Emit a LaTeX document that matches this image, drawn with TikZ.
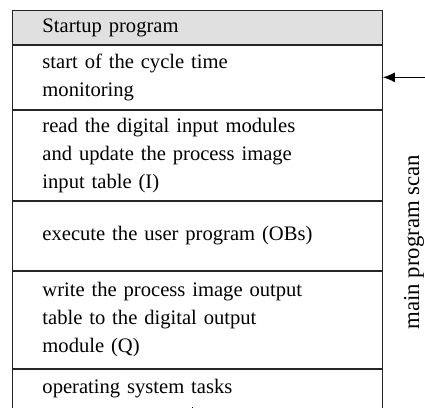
\documentclass[tikz,border=0pt]{standalone}
\usepackage{fontspec}
\setmainfont{Liberation Serif}
\usetikzlibrary{positioning,arrows.meta}

\definecolor{headgray}{RGB}{224,224,224}
\tikzset{
  stepbox/.style={draw=black!85,line width=0.9pt,rectangle,anchor=north west,
    minimum width=370pt,text width=310pt,inner xsep=30pt,inner ysep=0pt,
    align=left,font=\fontsize{20.6}{27.8}\selectfont},
  loopline/.style={draw=black,line width=0.9pt}
}

\begin{document}
\begin{tikzpicture}[x=1pt,y=1pt]
\useasboundingbox (0,0) rectangle (425,-407);
% cycle steps
\node[stepbox,fill=headgray,minimum height=34pt] (header) at (12,-10) {Startup program};
\node[stepbox,minimum height=64pt,below=0pt of header] (monitor) {start of the cycle time\\monitoring};
\node[stepbox,minimum height=90pt,below=0pt of monitor] (readin) {read the digital input modules\\and update the process image\\input table (I)};
\node[stepbox,minimum height=69pt,below=0pt of readin] (exec) {execute the user program (OBs)};
\node[stepbox,minimum height=97pt,below=0pt of exec] (writeout) {write the process image output\\table to the digital output\\module (Q)};
\node[stepbox,minimum height=39pt,below=0pt of writeout] (ostasks) {operating system tasks};
% loop back
\coordinate (loopin) at (425,0 |- monitor.east);
\coordinate (loopout) at (192,-407);
\draw[loopline,-{Latex[length=12pt,width=10pt]}] (loopin) -- (monitor.east);
\draw[loopline] (ostasks.south -| loopout) -- (loopout);
\node[rotate=90,font=\fontsize{22.8}{25}\selectfont] (scanlabel) at (414,-242) {main program scan};
\end{tikzpicture}
\end{document}
